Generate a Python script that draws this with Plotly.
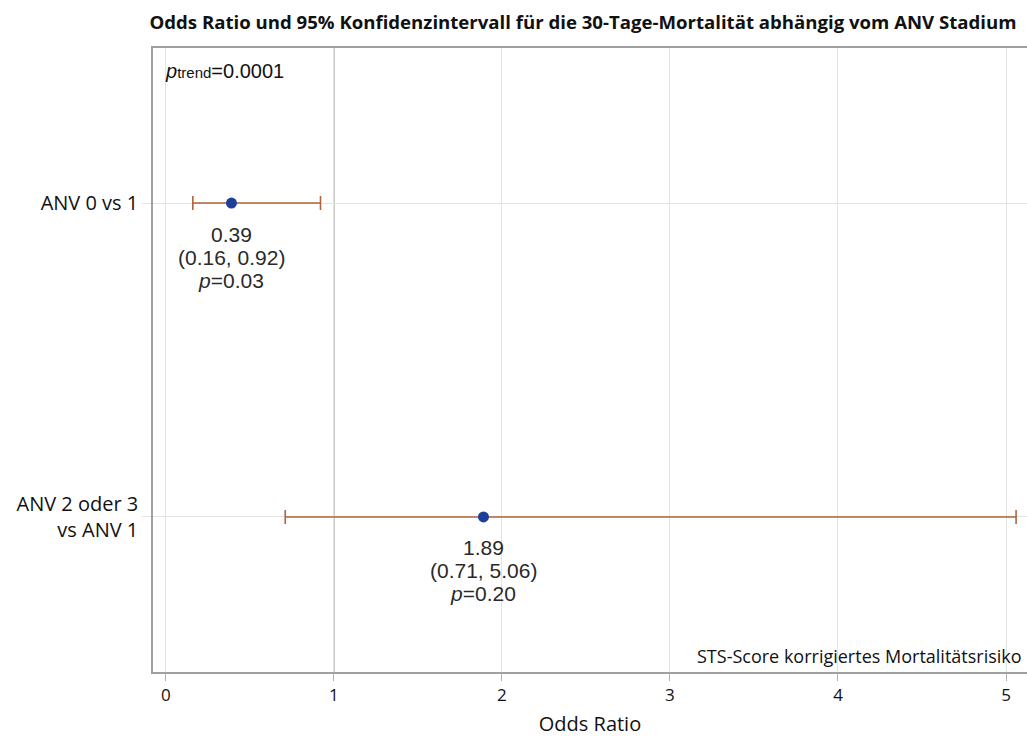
import plotly.graph_objects as go

categories = ["ANV 0 vs 1", "ANV 2 oder 3<br>vs ANV 1"]
odds_ratio = [0.39, 1.89]
ci_low = [0.16, 0.71]
ci_high = [0.92, 5.06]
p_values = ["0.03", "0.20"]
p_trend = "0.0001"
x_ticks = [0, 1, 2, 3, 4, 5]

title = "Odds Ratio und 95% Konfidenzintervall für die 30-Tage-Mortalität abhängig vom ANV Stadium"
footnote = "STS-Score korrigiertes Mortalitätsrisiko"

fig = go.Figure()
fig.add_trace(go.Scatter(
    x=odds_ratio, y=categories, mode="markers",
    marker=dict(color="#1d3f9a", size=11),
    error_x=dict(type="data", symmetric=False,
                 array=[h - o for h, o in zip(ci_high, odds_ratio)],
                 arrayminus=[o - l for o, l in zip(odds_ratio, ci_low)],
                 color="#b0653c", thickness=1.6, width=7),
    showlegend=False,
))

num_font = dict(family="Liberation Sans, Arial", size=21, color="#2a2a2a")
annotations = []
for cat, o, lo, hi, p in zip(categories, odds_ratio, ci_low, ci_high, p_values):
    lines = [f"{o:.2f}", f"({lo:.2f}, {hi:.2f})", f"<i>p</i>={p}"]
    shifts = [-31, -54, -77]
    for txt, s in zip(lines, shifts):
        annotations.append(dict(x=o, y=cat, xref="x", yref="y", text=txt,
                                showarrow=False, yshift=s, font=num_font,
                                xanchor="center", yanchor="middle"))

annotations.append(dict(
    x=0, y=1, xref="paper", yref="paper", xshift=10, yshift=-23,
    text="<i>p</i><span style='font-size:15px'>trend</span>=" + p_trend,
    showarrow=False, xanchor="left", yanchor="middle",
    font=dict(family="Liberation Sans, Arial", size=20, color="#111")))

annotations.append(dict(
    x=1, y=0, xref="paper", yref="paper", xshift=-3, yshift=16,
    text=footnote, showarrow=False, xanchor="right", yanchor="middle",
    font=dict(family="Open Sans", size=18, color="#111")))

fig.add_shape(type="rect", xref="paper", yref="paper", x0=0.57, x1=1,
              y0=0, y1=27 / 624, fillcolor="white", line_width=0, layer="between")
fig.add_shape(type="line", xref="x", yref="paper", x0=1, x1=1, y0=0, y1=1,
              line=dict(color="#a8a8a8", width=1.3), layer="between")

fig.update_layout(
    width=1027, height=745,
    margin=dict(l=153, r=0, t=48, b=73),
    paper_bgcolor="white", plot_bgcolor="white",
    title=dict(text="<b>" + title + "</b>", x=583 / 1027, xref="container",
               xanchor="center", y=1 - 22 / 745, yref="container", yanchor="middle",
               font=dict(family="Open Sans", size=18.6, color="#111")),
    annotations=annotations,
    xaxis=dict(range=[-0.077, 5.125], tickvals=x_ticks, ticktext=[str(t) for t in x_ticks],
               showgrid=True, gridcolor="#e3e3e3", gridwidth=1,
               showline=True, linecolor="#a0a0a0", linewidth=1.5, mirror=True,
               ticks="outside", ticklen=7, tickcolor="#b0b0b0",
               tickfont=dict(family="Open Sans", size=17, color="#111"),
               title=dict(text="Odds Ratio", font=dict(family="Open Sans", size=20, color="#111"),
                          standoff=12),
               zeroline=False),
    yaxis=dict(range=[1.494, -0.494], showgrid=True, gridcolor="#e3e3e3",
               showline=True, linecolor="#a0a0a0", linewidth=1.5, mirror=False,
               ticks="outside", ticklen=9, tickcolor="#e3e3e3",
               tickfont=dict(family="Open Sans", size=20, color="#111"),
               zeroline=False),
)

fig.write_html("out.html")
